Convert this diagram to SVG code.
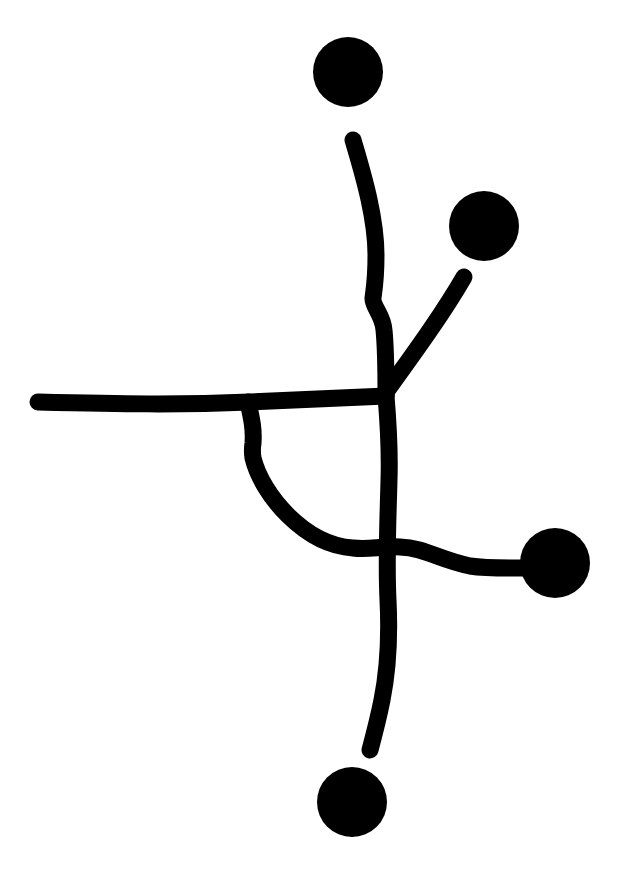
<svg xmlns="http://www.w3.org/2000/svg" width="620" height="875" viewBox="0 0 620 875">
<style>
.s{fill:none;stroke:#000;stroke-width:17;stroke-linecap:round;stroke-linejoin:round}
.n{fill:#000}
</style>
<rect width="620" height="875" fill="#fff"/>
<g id="connectors">
<path class="s" d="M353,140 C365,180 376,220 376,255 C376,280 374,290 373,298 C372,306 383,315 384,330 C386,350 386,375 386,396"/>
<path class="s" d="M464,277 C445,310 420,345 386,392"/>
<path class="s" d="M38,402 C120,404 180,405 250,402 C300,400 350,398 386,396"/>
<path class="s" d="M386,396 C388,420 390,450 389,480 C388,520 386,560 388,600 C390,640 388,670 382,700 C378,720 374,735 370,750"/>
<path class="s" d="M248,402 C252,420 254,430 253,443 C252,450 252,452 253,458 C262,495 305,545 353,548 C370,550 380,546 400,547 C425,548 440,560 470,566 C490,569 510,568 540,568"/>
</g>
<g id="node-top"><circle class="n" cx="348" cy="72" r="35"/></g>
<g id="node-upper-right"><circle class="n" cx="484" cy="226" r="35"/></g>
<g id="node-right"><circle class="n" cx="555" cy="563" r="35"/></g>
<g id="node-bottom"><circle class="n" cx="352" cy="802" r="35"/></g>
</svg>
